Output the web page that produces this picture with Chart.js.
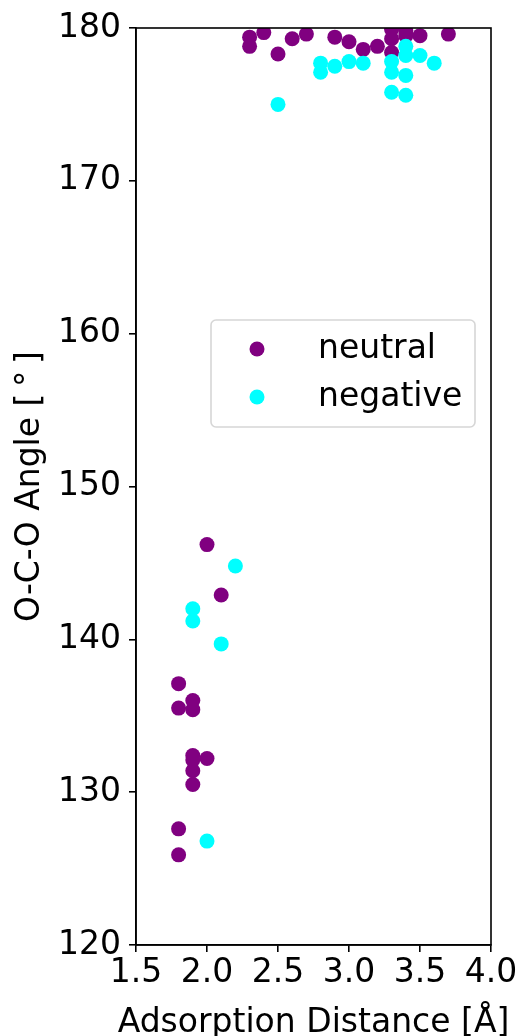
<!DOCTYPE html>
<html>
<head>
<meta charset="utf-8">
<script src="https://cdn.jsdelivr.net/npm/chart.js@4/dist/chart.umd.min.js"></script>
<style>
  html, body { margin: 0; padding: 0; background: #fff; }
  #c { display: block; }
</style>
</head>
<body>
<canvas id="c" width="520" height="1036" style="width:520px;height:1036px"></canvas>
<script>
const neutralX = [2.3, 2.3, 2.4, 2.5, 2.6, 2.7, 2.9, 3.0, 3.1, 3.2, 3.3, 3.3, 3.3, 3.4, 3.4, 3.5, 3.7,
                  2.0, 2.1, 1.8, 1.8, 1.9, 1.9, 1.9, 1.9, 2.0, 1.9, 1.9, 1.8, 1.8];
const neutralY = [179.4, 178.8, 179.7, 178.3, 179.3, 179.6, 179.4, 179.1, 178.6, 178.8, 179.9, 179.3, 178.4, 179.8, 179.5, 179.5, 179.6,
                  146.2, 142.9, 137.1, 135.5, 136.0, 135.4, 132.4, 132.1, 132.2, 131.4, 130.5, 127.6, 125.9];
const negativeX = [2.5, 2.8, 2.8, 2.9, 3.0, 3.1, 3.3, 3.3, 3.3, 3.4, 3.4, 3.4, 3.4, 3.5, 3.6,
                   2.2, 1.9, 1.9, 2.1, 2.0];
const negativeY = [175.0, 177.7, 177.1, 177.5, 177.8, 177.7, 177.8, 177.1, 175.8, 178.8, 178.2, 176.9, 175.6, 178.2, 177.7,
                   144.8, 142.0, 141.2, 139.7, 126.8];
const xTicks = [1.5, 2.0, 2.5, 3.0, 3.5, 4.0];
const yTicks = [120, 130, 140, 150, 160, 170, 180];
const seriesLabels = ['neutral', 'negative'];
const seriesColors = ['#800080', '#00ffff'];
const xTitle = 'Adsorption Distance [Å]';
const yTitle = 'O-C-O Angle [\u2009°\u2009]';

const FONT = 'DejaVu Sans';
const FS = 33;

function pts(xs, ys) { return xs.map((x, i) => ({ x: x, y: ys[i] })); }

const framePlugin = {
  id: 'frame',
  afterDraw(chart) {
    const ctx = chart.ctx;
    const a = chart.chartArea;
    ctx.save();
    ctx.strokeStyle = '#000';
    ctx.lineWidth = 1.6;
    ctx.strokeRect(a.left, a.top, a.right - a.left, a.bottom - a.top);
    // x-axis title (drawn without width compression)
    ctx.font = FS + 'px "' + FONT + '"';
    ctx.fillStyle = '#000';
    ctx.textAlign = 'center';
    ctx.textBaseline = 'middle';
    ctx.fillText(xTitle, (a.left + a.right) / 2, 1023);
    // legend
    const bx = a.left + 75, by = 320, bw = 264, bh = 107;
    ctx.globalAlpha = 0.8;
    ctx.fillStyle = '#fff';
    ctx.beginPath();
    ctx.roundRect(bx, by, bw, bh, 5);
    ctx.fill();
    ctx.strokeStyle = '#cccccc';
    ctx.lineWidth = 1.6;
    ctx.stroke();
    ctx.globalAlpha = 1;
    ctx.textAlign = 'left';
    chart.data.datasets.forEach((ds, i) => {
      const cy = by + 29 + i * 48;
      ctx.fillStyle = ds.backgroundColor;
      ctx.beginPath();
      ctx.arc(bx + 46, cy, 7.5, 0, Math.PI * 2);
      ctx.fill();
      ctx.fillStyle = '#000';
      ctx.fillText(ds.label, bx + 107, cy);
    });
    ctx.restore();
  }
};

new Chart(document.getElementById('c'), {
  type: 'scatter',
  data: {
    datasets: [
      { label: seriesLabels[0], data: pts(neutralX, neutralY), backgroundColor: seriesColors[0], borderWidth: 0, pointRadius: 7.5, order: 2, clip: 0 },
      { label: seriesLabels[1], data: pts(negativeX, negativeY), backgroundColor: seriesColors[1], borderWidth: 0, pointRadius: 7.5, order: 1, clip: 0 }
    ]
  },
  options: {
    responsive: false,
    animation: false,
    devicePixelRatio: 1,
    layout: { padding: { left: 0, right: 29, top: 28, bottom: 0 } },
    plugins: { legend: { display: false }, tooltip: { enabled: false } },
    scales: {
      x: {
        type: 'linear',
        min: 1.5, max: 4.0,
        afterBuildTicks(s) { s.ticks = xTicks.map(v => ({ value: v })); },
        afterFit(s) { s.height = 91; },
        grid: { display: true, drawOnChartArea: false, drawTicks: true, tickLength: 7, color: '#000', lineWidth: 1.6 },
        border: { display: true, color: '#000', width: 1.6 },
        ticks: { color: '#000', font: { family: FONT, size: FS }, padding: 2, maxRotation: 0, autoSkip: false,
                 callback: v => Number(v).toFixed(1) },
        title: { display: false }
      },
      y: {
        type: 'linear',
        min: 120, max: 180,
        afterBuildTicks(s) { s.ticks = yTicks.map(v => ({ value: v })); },
        afterFit(s) { s.width = 136; },
        grid: { display: true, drawOnChartArea: false, drawTicks: true, tickLength: 7, color: '#000', lineWidth: 1.6 },
        border: { display: true, color: '#000', width: 1.6 },
        ticks: { color: '#000', font: { family: FONT, size: FS }, padding: 8, autoSkip: false,
                 callback: v => String(v) },
        title: { display: true, text: yTitle, color: '#000', font: { family: FONT, size: FS, lineHeight: 0.8 }, padding: { top: 17, bottom: 0 } }
      }
    }
  },
  plugins: [framePlugin]
});
</script>
</body>
</html>
